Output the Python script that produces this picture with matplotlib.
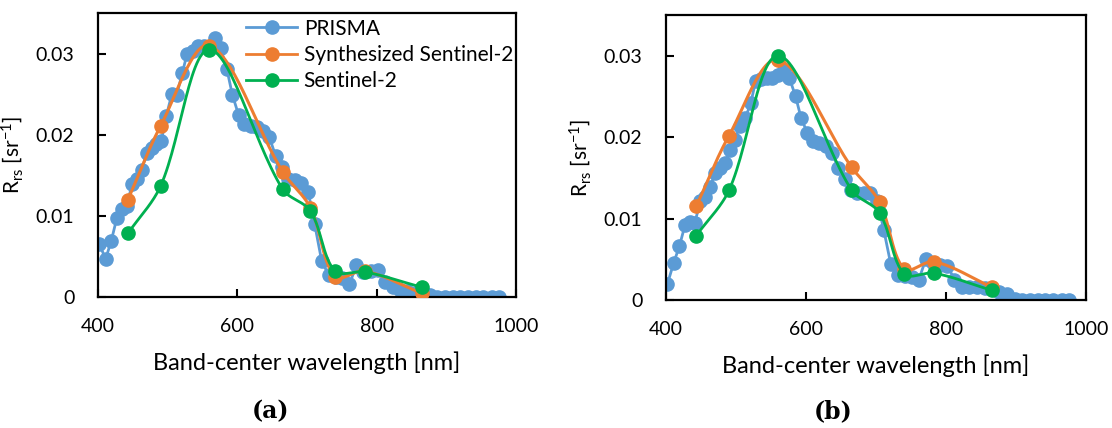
import numpy as np
import matplotlib.pyplot as plt

# PRISMA band centres (nm)
prisma_wl = [402, 411, 419, 427, 434, 441, 449, 456, 463, 470,
             477, 484, 491, 498, 506, 513, 521, 528, 536, 544,
             552, 560, 568, 576, 585, 593, 602, 610, 619, 628,
             637, 646, 655, 664, 673, 683, 692, 702, 711, 721,
             731, 741, 751, 761, 771, 781, 792, 802, 812, 823,
             833, 844, 855, 865, 876, 887, 898, 909, 920, 931,
             942, 953, 965, 976]

prisma_a = [0.0065, 0.0047, 0.0069, 0.0097, 0.0109, 0.0112, 0.0139, 0.0145, 0.0157, 0.0178,
            0.0184, 0.0189, 0.0192, 0.0223, 0.0250, 0.0249, 0.0276, 0.0300, 0.0303, 0.0309,
            0.0310, 0.0308, 0.0319, 0.0307, 0.0281, 0.0249, 0.0224, 0.0213, 0.0211, 0.0209,
            0.0205, 0.0197, 0.0174, 0.0160, 0.0146, 0.0144, 0.0141, 0.0129, 0.0090, 0.0045,
            0.0027, 0.0025, 0.0023, 0.0016, 0.0039, 0.0031, 0.0032, 0.0033, 0.0019, 0.0012,
            0.0009, 0.0007, 0.0005, 0.0004, 0.0002, 0.0, 0.0, 0.0, 0.0, 0.0,
            0.0, 0.0, 0.0, 0.0]

prisma_b = [0.0020, 0.0046, 0.0066, 0.0092, 0.0096, 0.0095, 0.0121, 0.0127, 0.0139, 0.0156,
            0.0162, 0.0168, 0.0184, 0.0197, 0.0214, 0.0223, 0.0242, 0.0269, 0.0271, 0.0273,
            0.0273, 0.0276, 0.0283, 0.0273, 0.0250, 0.0223, 0.0205, 0.0195, 0.0193, 0.0189,
            0.0181, 0.0162, 0.0148, 0.0135, 0.0131, 0.0132, 0.0132, 0.0121, 0.0086, 0.0044,
            0.0031, 0.0030, 0.0028, 0.0025, 0.0050, 0.0045, 0.0043, 0.0042, 0.0025, 0.0016,
            0.0016, 0.0016, 0.0015, 0.0013, 0.0010, 0.0007, 0.0001, 0.0, 0.0, 0.0,
            0.0, 0.0, 0.0, 0.0]

# Sentinel-2 band centres (nm)
s2_wl = [443, 490, 560, 665, 705, 740, 783, 865]

synth_a = [0.0120, 0.0211, 0.0310, 0.01546, 0.0110, 0.0025, 0.0032, 0.00045]
s2_a = [0.00785, 0.0137, 0.0305, 0.0133, 0.0106, 0.0032, 0.0031, 0.0012]

synth_b = [0.0115, 0.0202, 0.0295, 0.0163, 0.0120, 0.0038, 0.0047, 0.0016]
s2_b = [0.0079, 0.0135, 0.0300, 0.0135, 0.0107, 0.0032, 0.0033, 0.0012]

BLUE = "#5B9BD5"
ORANGE = "#ED7D31"
GREEN = "#00B050"
FONT = "Lato"
LW = 2.0
MS = 9.5


def smooth(ax, x, y, n=30):
    # Excel-like smoothed line, built in screen space so the shape is right
    p = ax.transData.transform(np.column_stack([x, y]).astype(float))
    pp = np.vstack([p[0], p, p[-1]])
    out = []
    for i in range(1, len(pp) - 2):
        p0, p1, p2, p3 = pp[i - 1], pp[i], pp[i + 1], pp[i + 2]
        d01 = np.hypot(*(p1 - p0))
        d12 = np.hypot(*(p2 - p1))
        d23 = np.hypot(*(p3 - p2))
        w1 = d12 / (d01 + d12) if d01 + d12 > 0 else 0
        w2 = d12 / (d12 + d23) if d12 + d23 > 0 else 0
        c1 = p1 + (p2 - p0) * w1 / 3
        c2 = p2 - (p3 - p1) * w2 / 3
        t = np.linspace(0, 1, n)[:, None]
        seg = ((1 - t) ** 3) * p1 + 3 * ((1 - t) ** 2) * t * c1 + 3 * (1 - t) * t ** 2 * c2 + t ** 3 * p2
        out.append(seg if i == 1 else seg[1:])
    out = ax.transData.inverted().transform(np.vstack(out))
    return out[:, 0], out[:, 1]


def draw(ax, prisma, synth, s2, legend=False):
    ax.set_xlim(400, 1000)
    ax.set_ylim(0, 0.035)

    ax.plot(prisma_wl, prisma, "-o", color=BLUE, lw=LW, ms=MS, zorder=2)
    sx, sy = smooth(ax, s2_wl, synth)
    ax.plot(sx, sy, "-", color=ORANGE, lw=2.2, zorder=3)
    ax.plot(s2_wl, synth, "o", color=ORANGE, ms=MS, zorder=3)
    gx, gy = smooth(ax, s2_wl, s2)
    ax.plot(gx, gy, "-", color=GREEN, lw=LW, zorder=4)
    ax.plot(s2_wl, s2, "o", color=GREEN, ms=MS, zorder=4)

    ax.set_xlim(400, 1000)
    ax.set_ylim(0, 0.035)
    ax.set_xticks([400, 600, 800, 1000])
    ax.set_yticks([0, 0.01, 0.02, 0.03])
    ax.set_yticklabels(["0", "0.01", "0.02", "0.03"])
    ax.tick_params(direction="in", length=6, width=1.5, labelsize=14)
    ax.tick_params(axis="y", pad=17)
    ax.tick_params(axis="x", pad=15)
    for lab in ax.get_xticklabels() + ax.get_yticklabels():
        lab.set_family(FONT)
    for s in ax.spines.values():
        s.set_linewidth(1.6)
    ax.set_xlabel("Band-center wavelength [nm]", fontsize=17, family=FONT, labelpad=12)
    ax.set_ylabel(r"R$_{\mathregular{rs}}$ [sr$^{\mathregular{-1}}$]", fontsize=15, family=FONT)
    ax.yaxis.set_label_coords(-0.175, 0.5)

    if legend:
        h = [
            plt.Line2D([], [], color=BLUE, marker="o", lw=LW, ms=MS),
            plt.Line2D([], [], color=ORANGE, marker="o", lw=LW, ms=MS),
            plt.Line2D([], [], color=GREEN, marker="o", lw=LW, ms=MS),
        ]
        ax.legend(h, ["PRISMA", "Synthesized Sentinel-2", "Sentinel-2"],
                  loc="upper left", bbox_to_anchor=(0.345, 0.995), frameon=False,
                  prop={"family": FONT, "size": 15}, handlelength=2.45,
                  handletextpad=0.3, labelspacing=0.3, borderpad=0.2, borderaxespad=0)


plt.rcParams["mathtext.fontset"] = "custom"
plt.rcParams["mathtext.rm"] = FONT
plt.rcParams["mathtext.it"] = FONT

fig = plt.figure(figsize=(11.12, 4.28), dpi=100)
ax1 = fig.add_axes([0.0881, 0.306, 0.3759, 0.6634])
ax2 = fig.add_axes([0.599, 0.299, 0.3777, 0.666])

draw(ax1, prisma_a, synth_a, s2_a, legend=True)
draw(ax2, prisma_b, synth_b, s2_b)

fig.text(0.243, 0.022, "(a)", fontsize=17, fontweight="bold", family="DejaVu Serif", ha="center")
fig.text(0.749, 0.022, "(b)", fontsize=17, fontweight="bold", family="DejaVu Serif", ha="center")

fig.savefig("out.png", dpi=100)
